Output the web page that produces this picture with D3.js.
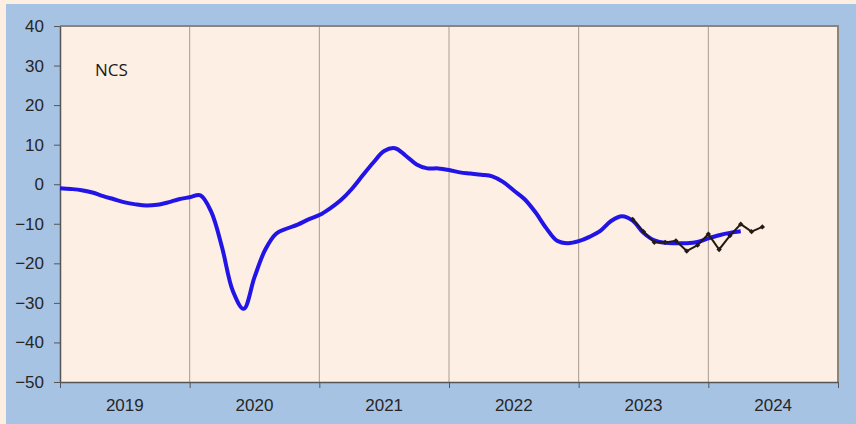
<!DOCTYPE html>
<html>
<head>
<meta charset="utf-8">
<script src="https://cdn.jsdelivr.net/npm/d3@7"></script>
<style>
  body { margin: 0; background: #fdeee2; }
  svg { display: block; }
</style>
</head>
<body>
<div id="chart"></div>
<script>
var svgWidth = 856;
var svgHeight = 424;

var margin = { top: 26, right: 18, bottom: 42, left: 60 };
var width = 838 - margin.left;
var height = 382 - margin.top;

// monthly values from Jan 2019
var blueValues = [
  -1.0, -1.2, -1.5, -2.1, -3.0, -3.8, -4.6, -5.1, -5.4, -5.2, -4.6, -3.8,
  -3.3, -2.8, -7.0, -16.0, -27.0, -31.5, -23.5, -16.5, -12.5, -11.2, -10.2, -8.9,
  -7.8, -6.1, -4.0, -1.2, 2.2, 5.5, 8.4, 9.1, 7.2, 5.0, 4.0, 4.0,
  3.6, 3.0, 2.7, 2.4, 2.0, 0.6, -1.6, -3.8, -7.1, -11.1, -14.3, -14.9,
  -14.4, -13.3, -11.8, -9.3, -8.1, -9.2, -12.3, -14.2, -14.8, -14.9, -14.9, -14.6,
  -13.7, -12.9, -12.3, -11.9
];
// monthly values from Jun 2023
var blackStart = 53;
var blackValues = [-8.9, -12.0, -14.7, -14.7, -14.3, -16.9, -15.4, -12.6, -16.5, -13.0, -10.1, -12.0, -10.8];

var yearLabels = ["2019", "2020", "2021", "2022", "2023", "2024"];
var yTicks = [-50, -40, -30, -20, -10, 0, 10, 20, 30, 40];
var seriesLabel = "NCS";

var svg = d3.select("#chart")
  .append("svg")
  .attr("width", svgWidth)
  .attr("height", svgHeight);

// outer blue panel
svg.append("rect")
  .attr("x", 6).attr("y", 4)
  .attr("width", svgWidth - 6).attr("height", svgHeight - 4)
  .attr("fill", "#a7c3e3");

var chartGroup = svg.append("g")
  .attr("transform", `translate(${margin.left}, ${margin.top})`);

var xScale = d3.scaleLinear()
  .domain([0, 72])
  .range([0, width]);

var yScale = d3.scaleLinear()
  .domain([-50, 40])
  .range([height, 0]);

// plot area
chartGroup.append("rect")
  .attr("width", width)
  .attr("height", height)
  .attr("fill", "#fdefe3");

// year grid lines
chartGroup.selectAll(".grid")
  .data(d3.range(12, 72, 12))
  .enter()
  .append("line")
  .attr("x1", d => xScale(d))
  .attr("x2", d => xScale(d))
  .attr("y1", 0)
  .attr("y2", height)
  .attr("stroke", "#a89c92")
  .attr("stroke-width", 1);

// top and right frame
chartGroup.append("path")
  .attr("d", `M0,0H${width}V${height}`)
  .attr("fill", "none")
  .attr("stroke", "#8d847c")
  .attr("stroke-width", 2);

// axes
var leftAxis = d3.axisLeft(yScale)
  .tickValues(yTicks)
  .tickSize(6)
  .tickPadding(10)
  .tickSizeOuter(0);

var yAxisG = chartGroup.append("g").call(leftAxis);
yAxisG.select(".domain").attr("stroke", "#555").attr("stroke-width", 1.5);
yAxisG.selectAll(".tick line").attr("stroke", "#555");
yAxisG.selectAll("text")
  .attr("font-family", "Liberation Sans, Arial, sans-serif")
  .attr("font-size", "17px")
  .attr("fill", "#262626");

var bottomAxis = d3.axisBottom(xScale)
  .tickValues(d3.range(0, 73, 12))
  .tickSize(6)
  .tickFormat("")
  .tickSizeOuter(0);

var xAxisG = chartGroup.append("g")
  .attr("transform", `translate(0, ${height})`)
  .call(bottomAxis);
xAxisG.select(".domain").attr("stroke", "#555").attr("stroke-width", 1.5);
xAxisG.selectAll(".tick line").attr("stroke", "#555");

chartGroup.selectAll(".yearLabel")
  .data(yearLabels)
  .enter()
  .append("text")
  .attr("x", (d, i) => xScale(i * 12 + 6))
  .attr("y", height + 29)
  .attr("text-anchor", "middle")
  .attr("font-family", "Liberation Sans, Arial, sans-serif")
  .attr("font-size", "17px")
  .attr("fill", "#262626")
  .text(d => d);

// series lines
var blueLine = d3.line()
  .x((d, i) => xScale(i))
  .y(d => yScale(d))
  .curve(d3.curveCatmullRom.alpha(0.5));

chartGroup.append("path")
  .datum(blueValues)
  .attr("d", blueLine)
  .attr("fill", "none")
  .attr("stroke", "#2214e6")
  .attr("stroke-width", 4)
  .attr("stroke-linejoin", "round");

var blackLine = d3.line()
  .x((d, i) => xScale(blackStart + i))
  .y(d => yScale(d));

chartGroup.append("path")
  .datum(blackValues)
  .attr("d", blackLine)
  .attr("fill", "none")
  .attr("stroke", "#241a14")
  .attr("stroke-width", 2);

chartGroup.selectAll(".pt")
  .data(blackValues)
  .enter()
  .append("path")
  .attr("d", d3.symbol(d3.symbolDiamond2, 18))
  .attr("transform", (d, i) => `translate(${xScale(blackStart + i)}, ${yScale(d)})`)
  .attr("fill", "#241a14");

chartGroup.append("text")
  .attr("x", 35)
  .attr("y", 50)
  .attr("font-family", "Open Sans, Noto Sans, sans-serif")
  .attr("font-size", "17px")
  .attr("fill", "#1a1a1a")
  .text(seriesLabel);
</script>
</body>
</html>
